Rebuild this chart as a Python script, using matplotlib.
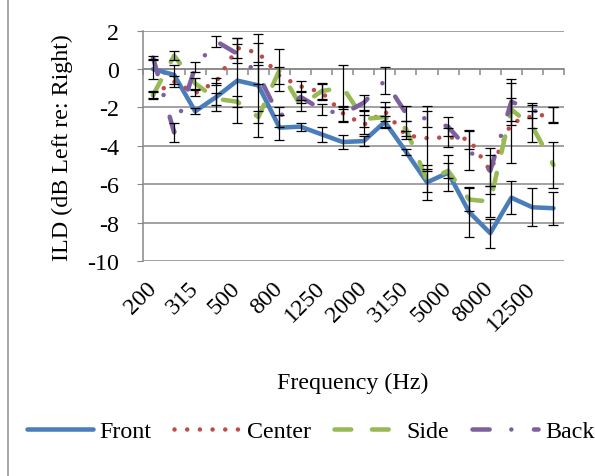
import matplotlib
matplotlib.use("Agg")
import matplotlib.pyplot as plt
import numpy as np
from matplotlib.lines import Line2D

plt.rcParams['font.family'] = ['Liberation Serif', 'DejaVu Serif']
plt.rcParams['axes.unicode_minus'] = False

# 1/3-octave band centres (Hz)
freqs = ['200', '250', '315', '400', '500', '630', '800', '1000', '1250', '1600',
         '2000', '2500', '3150', '4000', '5000', '6300', '8000', '10000', '12500', '16000']

front = [0.0, -0.3, -2.2, -1.45, -0.6, -0.85, -3.05, -3.0, -3.4, -3.8,
         -3.75, -2.75, -4.3, -5.9, -5.4, -7.45, -8.55, -6.7, -7.2, -7.25]
center = [-1.35, -0.65, -1.25, -0.65, 1.1, 0.85, -0.35, -0.9, -1.2, -2.3,
          -2.9, -2.2, -3.45, -3.6, -3.55, -3.65, -5.3, -2.8, -2.45, -2.35]
side = [-1.35, 0.7, -0.75, -1.55, -1.7, -2.5, -0.05, -1.9, -1.15, -0.95,
        -2.6, -2.5, -3.1, -5.8, -5.3, -6.8, -6.9, -2.1, -3.0, -5.0]
back = [0.6, -3.3, 0.1, 1.45, 0.8, -0.3, -2.5, -1.45, -2.1, -2.35,
        -1.75, -0.6, -2.3, -2.6, -3.0, -4.25, -5.3, -1.7, -2.15, -2.4]

# error bar half-widths
front_err = [0.5, 0.5, 0.15, 0.75, 2.2, 2.7, 0.65, 0.2, 0.4, 0.35,
             0.25, 0.3, 0.15, 0.9, 0.95, 1.3, 0.75, 0.85, 1.0, 0.85]
center_err = [0.2, 0.3, 0.15, 0.2, 0.5, 0.5, 0.45, 0.3, 0.4, 0.4,
              0.5, 0.5, 0.2, 1.7, 0.5, 0.5, 1.2, 2.1, 0.6, 0.4]
side_err = [0.15, 0.25, 0.3, 0.3, 0.3, 0.3, 1.1, 0.3, 0.4, 1.15,
            0.4, 0.5, 0.4, 0.6, 0.4, 0.6, 0.8, 0.6, 0.8, 1.2]
back_err = [0.06, 0.5, 0.25, 0.3, 0.5, 0.5, 0.5, 0.3, 0.3, 0.4,
            0.4, 0.7, 0.4, 0.4, 0.5, 1.0, 0.8, 1.2, 0.4, 0.4]

x = np.arange(len(freqs))
grey = '#888888'
lw = 3.25
fs = 17.3

fig = plt.figure(figsize=(5.95, 4.77), dpi=100)
ax = fig.add_axes([0.2395, 0.4507, 0.7084, 0.4828])

series = [
    ('Front', front, front_err, '#4A7EBB', dict(linestyle='-')),
    ('Center', center, center_err, '#BE4B48', dict(linestyle=(0, (0.01, 2.8)))),
    ('Side', side, side_err, '#98B954', dict(linestyle=(0, (3.7, 4.6)))),
    ('Back', back, back_err, '#7D60A0', dict(linestyle=(0, (3.8, 4.8, 0.01, 5.0)))),
]

for i, (name, vals, err, col, st) in enumerate(series):
    ax.plot(x, vals, color=col, lw=lw, label=name, solid_capstyle='round',
            dash_capstyle='round', solid_joinstyle='round', zorder=3 + i, **st)
    ax.errorbar(x, vals, yerr=err, fmt='none', ecolor='black', elinewidth=0.9,
                capsize=3.6, capthick=0.9, zorder=8)

ax.set_xlim(-0.5, len(freqs) - 0.5)
ax.set_ylim(-10, 2)
yt = np.arange(-10, 3, 2)
ax.set_yticks(yt, labels=[str(v) for v in yt])
ax.yaxis.grid(True, color=grey, lw=1.1)
ax.set_axisbelow(True)
ax.tick_params(axis='y', labelsize=fs, length=4, color=grey, pad=13)

for s in ['top', 'right']:
    ax.spines[s].set_visible(False)
ax.spines['left'].set_color(grey)
ax.spines['left'].set_linewidth(1.1)
ax.spines['bottom'].set_position(('data', 0))
ax.spines['bottom'].set_color(grey)
ax.spines['bottom'].set_linewidth(1.1)
ax.set_xticks(np.arange(-0.5, len(freqs), 1))
ax.set_xticklabels([])
ax.tick_params(axis='x', length=4.3, color=grey, width=1.1, direction='out')

sec = ax.secondary_xaxis('bottom')
sec.set_xticks(x[::2], labels=freqs[::2])
sec.tick_params(length=0, pad=17, labelsize=fs)
sec.spines['bottom'].set_visible(False)
for lab in sec.get_xticklabels():
    lab.set_rotation(45)
    lab.set_ha('right')
    lab.set_va('center')
    lab.set_rotation_mode('anchor')

fig.text(353 / 595, 1 - 383 / 477, 'Frequency (Hz)', fontsize=fs, ha='center', va='center')
fig.text(62 / 595, 1 - 148 / 477, 'ILD (dB Left re: Right)', fontsize=fs,
         ha='center', va='center', rotation=90)

handles, labels = ax.get_legend_handles_labels()
fig.legend(handles, labels, loc='center', bbox_to_anchor=(0.522, 1 - 432 / 477), ncol=4,
           frameon=False, fontsize=fs, handlelength=2.75, handletextpad=0.28,
           columnspacing=0.95, borderaxespad=0, borderpad=0)

fig.add_artist(Line2D([7.5 / 595, 7.5 / 595], [0, 1], color='#999999', lw=1.2,
                      transform=fig.transFigure))

fig.savefig('out.png', dpi=100)
